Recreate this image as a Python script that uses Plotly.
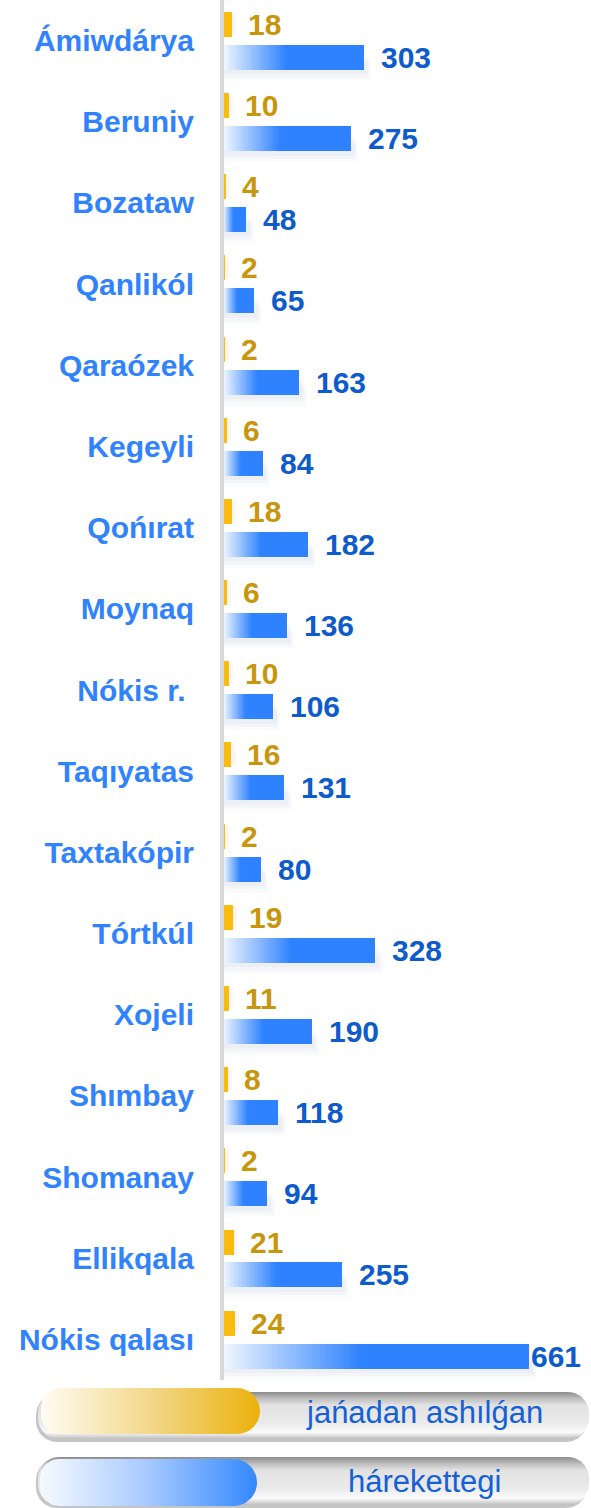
import plotly.graph_objects as go
import math

# ---------------- data ----------------
categories = ["Ámiwdárya", "Beruniy", "Bozataw", "Qanlikól", "Qaraózek", "Kegeyli",
              "Qońırat", "Moynaq", "Nókis r.\u00a0", "Taqıyatas", "Taxtakópir", "Tórtkúl",
              "Xojeli", "Shımbay", "Shomanay", "Ellikqala", "Nókis qalası"]
new_opened = [18, 10, 4, 2, 2, 6, 18, 6, 10, 16, 2, 19, 11, 8, 2, 21, 24]
active = [303, 275, 48, 65, 163, 84, 182, 136, 106, 131, 80, 328, 190, 118, 94, 255, 661]
series_names = ["jańadan ashılǵan", "hárekettegi"]

# ---------------- style ----------------
W, H = 591, 1508
FONT = "Liberation Sans, Arial, sans-serif"
CAT_COLOR = "#3083FD"
GOLD_TXT = "#C8960C"
BLUE_TXT = "#0E5BCB"
GOLD = "#F9BC0E"
BLUE = (46, 130, 255)
BLUE_LIGHT = (240, 246, 255)
FS = 30

X_MAX = 795.4
OFF_G, OFF_B, BW = -0.20, 0.206, 0.308
n = len(categories)
ys = list(range(n))

fig = go.Figure()

# soft shadow under blue bars (layered for softness)
for k, (dy, a) in enumerate([(0.10, 0.18), (0.14, 0.14), (0.18, 0.10)]):
    fig.add_trace(go.Bar(orientation="h", y=[i + OFF_B + dy for i in ys],
                         x=[v + 8 + 4 * k for v in active], width=0.22,
                         marker=dict(color="rgba(205,214,228,%.2f)" % a, line=dict(width=0)),
                         hoverinfo="skip", showlegend=False))
# faint glow to the right of gold bars
fig.add_trace(go.Bar(orientation="h", y=[i + OFF_G for i in ys],
                     x=[v + 9 for v in new_opened], width=BW * 0.8,
                     marker=dict(color="rgba(255,205,190,0.18)", line=dict(width=0)),
                     hoverinfo="skip", showlegend=False))

# gold bars
fig.add_trace(go.Bar(orientation="h", y=[i + OFF_G for i in ys], x=new_opened, width=BW,
                     marker=dict(color=GOLD, line=dict(width=0)), name=series_names[0],
                     showlegend=False))
# blue bars (solid)
fig.add_trace(go.Bar(orientation="h", y=[i + OFF_B for i in ys], x=active, width=BW,
                     marker=dict(color="rgb(%d,%d,%d)" % BLUE, line=dict(width=0)),
                     name=series_names[1], showlegend=False))

# gradient overlay on the left part of each blue bar
NSEG, FRAC = 40, 0.45
gy, gx, gb, gc = [], [], [], []
for k in range(NSEG):
    t = (k + 0.5) / NSEG
    c = tuple(round(BLUE_LIGHT[j] + (BLUE[j] - BLUE_LIGHT[j]) * t) for j in range(3))
    for i, v in enumerate(active):
        seg = v * FRAC / NSEG
        gy.append(i + OFF_B)
        gb.append(seg * k)
        gx.append(seg * 1.02)
        gc.append("rgb(%d,%d,%d)" % c)
fig.add_trace(go.Bar(orientation="h", y=gy, x=gx, base=gb, width=BW,
                     marker=dict(color=gc, line=dict(width=0)),
                     hoverinfo="skip", showlegend=False))

# value labels
annotations = []
for i, v in enumerate(new_opened):
    annotations.append(dict(x=v, y=i + OFF_G, xref="x", yref="y", text=str(v),
                            showarrow=False, xanchor="left", yanchor="middle", xshift=14,
                            font=dict(family=FONT, size=FS, color=GOLD_TXT, weight="bold")))
for i, v in enumerate(active):
    txt = str(v)
    shift = 15 if v + (15 + len(txt) * 17) / 0.4614 < X_MAX + 2 else 0
    annotations.append(dict(x=v, y=i + OFF_B, xref="x", yref="y", text=txt,
                            showarrow=False, xanchor="left", yanchor="middle", xshift=shift,
                            font=dict(family=FONT, size=FS, color=BLUE_TXT, weight="bold")))


# ---------------- legend drawn as pills (pixel helper axes) ----------------
def rrect(x0, x1, y0, y1, rl, rr, m=14):
    xs, ysv = [], []
    corners = [((x0 + rl, y0 + rl), rl, 180, 270), ((x1 - rr, y0 + rr), rr, 270, 360),
               ((x1 - rr, y1 - rr), rr, 0, 90), ((x0 + rl, y1 - rl), rl, 90, 180)]
    for (cx, cy), r, a0, a1 in corners:
        for s in range(m + 1):
            a = math.radians(a0 + (a1 - a0) * s / m)
            xs.append(cx + r * math.cos(a))
            ysv.append(cy + r * math.sin(a))
    xs.append(xs[0]); ysv.append(ysv[0])
    return xs, ysv


gray_scale = [[0, "#BDBDBD"], [0.06, "#D8D8D8"], [0.14, "#FBFBFB"], [0.35, "#EAEAEA"],
              [0.72, "#E2E2E2"], [0.86, "#BEBEBE"], [1, "#8C8C8C"]]
legend_rows = [
    dict(gray=(37, 589, 1392, 1441), pill=(41, 260, 1388, 1434),
         scale=[[0, "#FFFCF3"], [0.5, "#F3D88A"], [1, "#EBB10C"]], name=series_names[0],
         ty=1412),
    dict(gray=(37, 589, 1457, 1507), pill=(40, 257, 1459, 1506),
         scale=[[0, "#F6FAFF"], [0.5, "#A6C9FF"], [1, "#3388FF"]], name=series_names[1],
         ty=1481),
]
for row in legend_rows:
    gx0, gx1, gy0, gy1 = row["gray"]
    # darker rim / shadow slightly offset to bottom-left
    xs, yv = rrect(gx0 - 1, gx1 - 2, gy0 + 2, gy1 + 1, 21, 21)
    fig.add_trace(go.Scatter(x=xs, y=yv, xaxis="x2", yaxis="y2", mode="lines", fill="toself",
                             line=dict(width=0, color="rgba(0,0,0,0)"),
                             fillcolor="rgba(150,150,150,0.55)",
                             hoverinfo="skip", showlegend=False))
    xs, yv = rrect(gx0 + 1, gx1, gy0, gy1 - 2, 21, 21)
    fig.add_trace(go.Scatter(x=xs, y=yv, xaxis="x2", yaxis="y2", mode="lines", fill="toself",
                             line=dict(width=0, color="rgba(0,0,0,0)"),
                             fillgradient=dict(type="vertical", colorscale=gray_scale),
                             hoverinfo="skip", showlegend=False))
    px0, px1, py0, py1 = row["pill"]
    xs, yv = rrect(px0, px1, py0, py1, 19, (py1 - py0) / 2)
    fig.add_trace(go.Scatter(x=xs, y=yv, xaxis="x2", yaxis="y2", mode="lines", fill="toself",
                             line=dict(width=0, color="rgba(0,0,0,0)"),
                             fillgradient=dict(type="horizontal", colorscale=row["scale"]),
                             hoverinfo="skip", showlegend=False))
    annotations.append(dict(x=424, y=row["ty"], xref="x2", yref="y2", text=row["name"],
                            showarrow=False, xanchor="center", yanchor="middle",
                            font=dict(family=FONT, size=31, color="#1560D6")))

fig.update_layout(
    width=W, height=H, margin=dict(l=0, r=0, t=0, b=0),
    paper_bgcolor="white", plot_bgcolor="rgba(0,0,0,0)",
    barmode="overlay", bargap=0, showlegend=False,
    xaxis=dict(domain=[224 / W, 1], range=[0, X_MAX], visible=False, fixedrange=True),
    yaxis=dict(domain=[1 - 1380 / H, 1], range=[n - 0.5, -0.5], tickvals=ys,
               ticktext=categories, showgrid=False, zeroline=False,
               showline=True, linecolor="#D8D8D8", linewidth=4, ticks="",
               ticklabelstandoff=20,
               tickfont=dict(family=FONT, size=FS, color=CAT_COLOR, weight="bold")),
    xaxis2=dict(domain=[0, 1], range=[0, W], visible=False, anchor="y2", fixedrange=True),
    yaxis2=dict(domain=[0, 1], range=[H, 0], visible=False, anchor="x2", fixedrange=True),
    annotations=annotations,
)

fig.write_html("out.html", config={"displayModeBar": False},
               post_script="document.body.style.margin='0';document.body.style.padding='0';"
                           "document.body.style.overflow='hidden';")
